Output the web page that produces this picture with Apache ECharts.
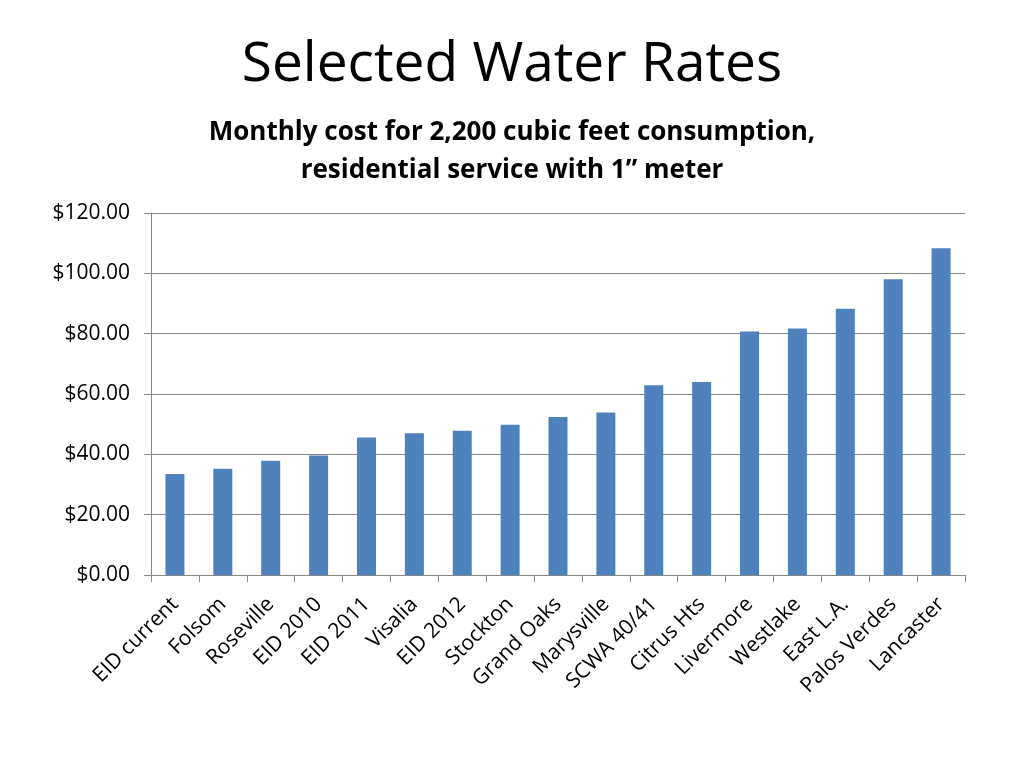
<!DOCTYPE html>
<html>
<head>
<meta charset="utf-8">
<script src="https://cdn.jsdelivr.net/npm/echarts@6/dist/echarts.min.js"></script>
<style>
    html, body { margin: 0; padding: 0; background: #fff; }
    #main { width: 1024px; height: 768px; }
</style>
</head>
<body>
<div id="main"></div>
<script>
    // values
    const places = ['EID current', 'Folsom', 'Roseville', 'EID 2010', 'EID 2011', 'Visalia', 'EID 2012',
        'Stockton', 'Grand Oaks', 'Marysville', 'SCWA 40/41', 'Citrus Hts', 'Livermore', 'Westlake',
        'East L.A.', 'Palos Verdes', 'Lancaster'];
    const monthlyCost = [33.5, 35.2, 37.9, 39.6, 45.6, 47.0, 47.8, 49.8, 52.4, 53.9, 62.9, 64.0,
        80.7, 81.7, 88.3, 98.0, 108.3];

    const FONT = '"Open Sans", sans-serif';
    const subStyle = { fontFamily: FONT, fontSize: 26, fontWeight: 'bold', color: '#000' };
    const chart = echarts.init(document.getElementById('main'));

    chart.setOption({
        backgroundColor: '#ffffff',
        animation: false,
        title: [
            {
                text: 'Selected Water Rates',
                left: 'center',
                top: 33,
                textStyle: { fontFamily: FONT, fontSize: 55, fontWeight: 'normal', color: '#000' }
            },
            {
                text: 'Monthly cost for 2,200 cubic feet consumption,',
                left: 'center',
                top: 115,
                textStyle: subStyle
            },
            {
                text: 'residential service with 1\u201d meter',
                left: 'center',
                top: 153,
                textStyle: subStyle
            }
        ],
        grid: { left: 151, right: 59, top: 213, bottom: 193 },
        xAxis: {
            type: 'category',
            data: places,
            axisLine: { lineStyle: { color: '#868686', width: 1 } },
            axisTick: { show: true, length: 7, lineStyle: { color: '#868686' } },
            axisLabel: {
                rotate: 45,
                interval: 0,
                margin: 26,
                fontFamily: FONT,
                fontSize: 21,
                color: '#000'
            }
        },
        yAxis: {
            type: 'value',
            min: 0,
            max: 120,
            interval: 20,
            axisLine: { show: true, lineStyle: { color: '#868686' } },
            axisTick: { show: true, length: 7, lineStyle: { color: '#868686' } },
            splitLine: { lineStyle: { color: '#868686', width: 1 } },
            axisLabel: {
                margin: 21,
                fontFamily: FONT,
                fontSize: 21,
                color: '#000',
                formatter: v => '$' + v.toFixed(2)
            }
        },
        series: [{
            type: 'bar',
            data: monthlyCost,
            barWidth: 19,
            itemStyle: { color: '#4F81BD' }
        }]
    });
</script>
</body>
</html>
